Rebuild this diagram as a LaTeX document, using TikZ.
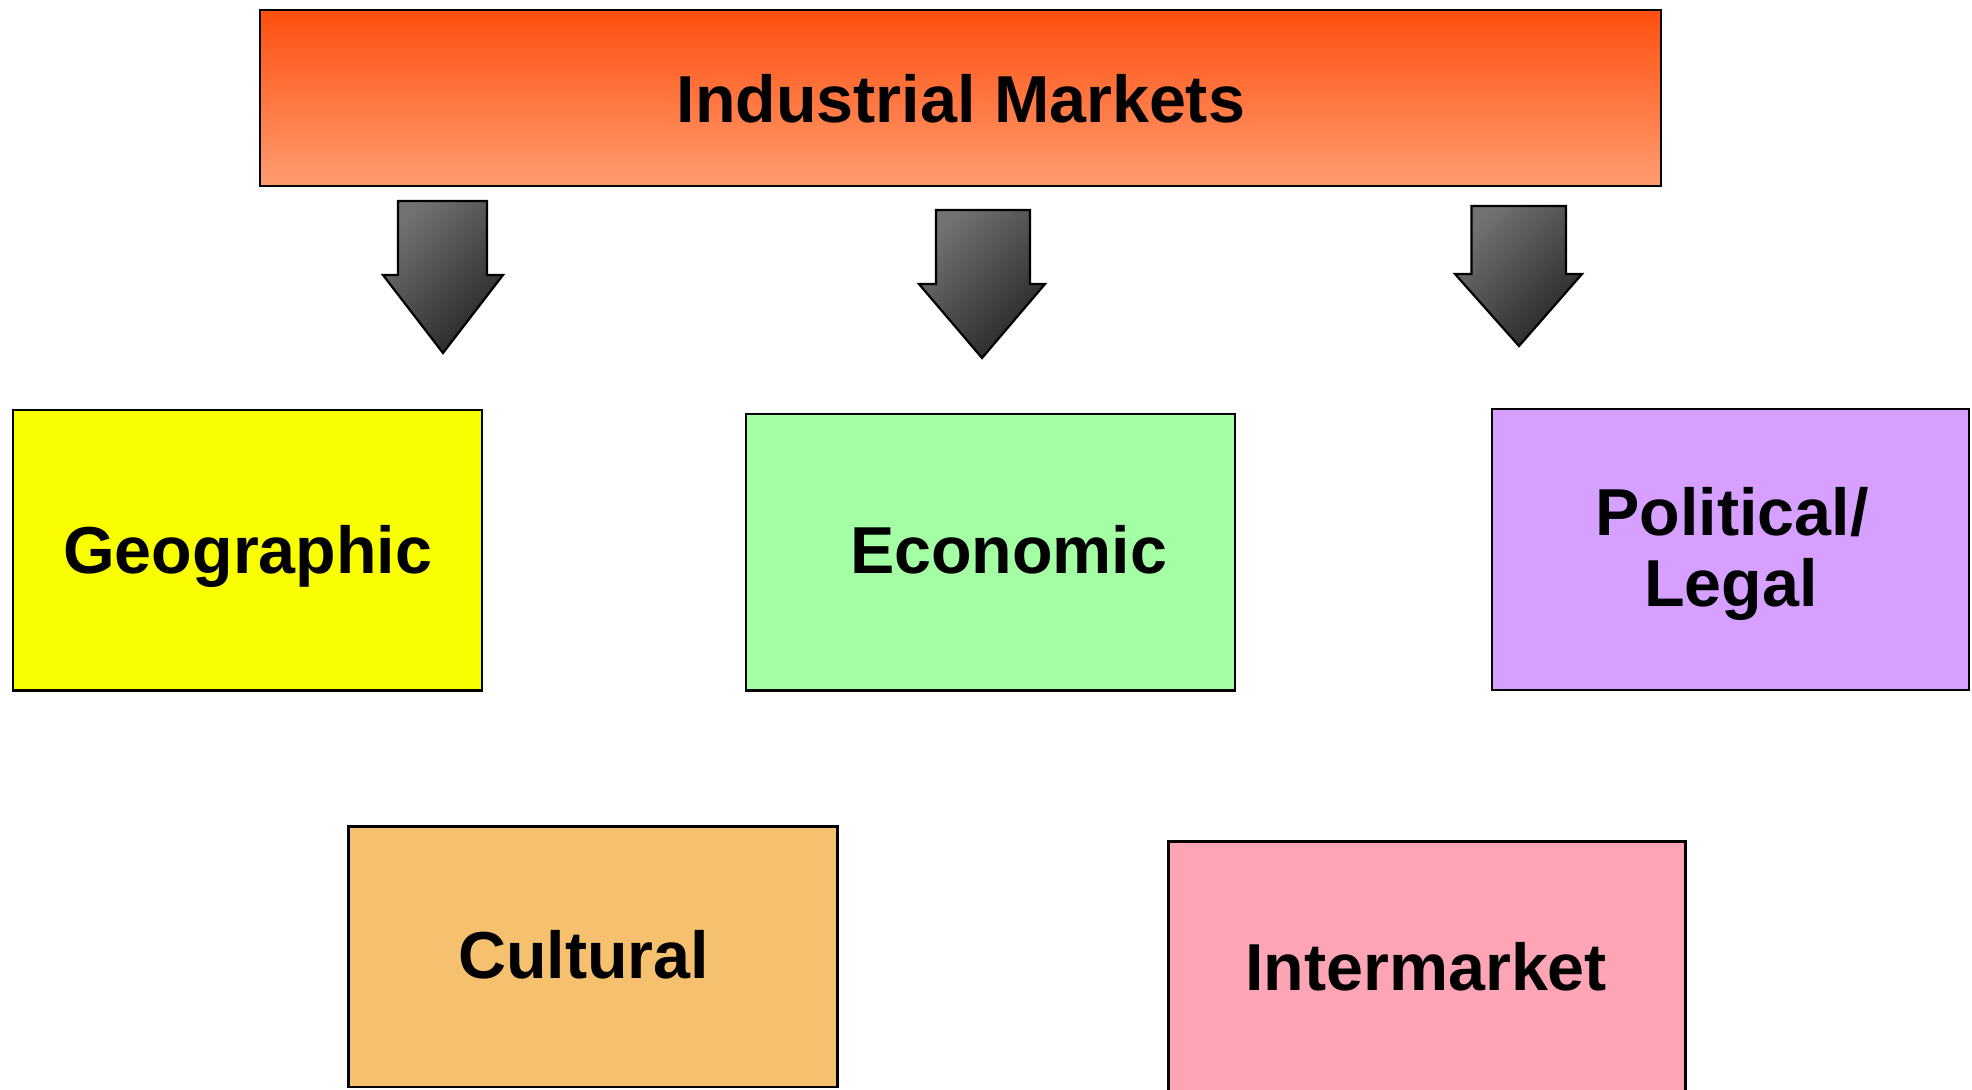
\documentclass[tikz,border=0pt]{standalone}
\usepackage{fontspec}
\setmainfont{Liberation Sans}
\begin{document}
\begin{tikzpicture}[x=0.5pt,y=-0.5pt,
  box/.style={draw=black, line width=1.2pt, rectangle, inner sep=0pt},
  lbl/.style={anchor=base, font=\fontsize{33.2}{35.85}\selectfont\bfseries, inner sep=0pt, align=center},
  blockarrow/.style={draw=black, line width=1.1pt, line join=miter, top color=gray!70!black!85, bottom color=black!85, shading angle=45}]
\useasboundingbox (0,0) rectangle (1972,1089);
% top box
\node[box, top color={rgb,255:red,255;green,79;blue,15}, bottom color={rgb,255:red,255;green,156;blue,112},
  minimum width=700.5pt, minimum height=88pt] (top) at (960.5,98) {};
\node[lbl] (toplbl) at (960.9,122) {Industrial Markets};
% arrows
\path[blockarrow] (398,201) -- (487,201) -- (487,275) -- (503,275) -- (443,353) -- (383,275) -- (398,275) -- cycle;
\path[blockarrow] (936,210) -- (1030,210) -- (1030,284) -- (1045,284) -- (982,358) -- (919,284) -- (936,284) -- cycle;
\path[blockarrow] (1471.5,206) -- (1566,206) -- (1566,274) -- (1582,274) -- (1519,346) -- (1455,274) -- (1471.5,274) -- cycle;
% boxes
\node[box, fill={rgb,255:red,250;green,255;blue,0}, minimum width=234.5pt, minimum height=140.25pt] (geo) at (247.2,550.2) {};
\node[lbl] (geolbl) at (247.8,573.4) {Geographic};
\node[box, fill={rgb,255:red,164;green,255;blue,164}, minimum width=244.6pt, minimum height=138.35pt] (eco) at (990.4,552.2) {};
\node[lbl] (ecolbl) at (1008.7,573.4) {Economic};
\node[box, fill={rgb,255:red,213;green,160;blue,255}, minimum width=238.65pt, minimum height=140.5pt] (pol) at (1730.4,549.5) {};
\node[lbl] (pollbl1) at (1732,535) {Political/};
\node[lbl] (pollbl2) at (1731,606.7) {Legal};
\node[box, fill={rgb,255:red,245;green,193;blue,110}, minimum width=244.6pt, minimum height=130.2pt] (cul) at (593,956.5) {};
\node[lbl] (cullbl) at (583.6,978.4) {Cultural};
\node[box, fill={rgb,255:red,253;green,165;blue,181}, minimum width=258.45pt, minimum height=139.3pt] (int) at (1426.85,980.7) {};
\node[lbl] (intlbl) at (1426.2,990) {Intermarket};
\end{tikzpicture}
\end{document}
